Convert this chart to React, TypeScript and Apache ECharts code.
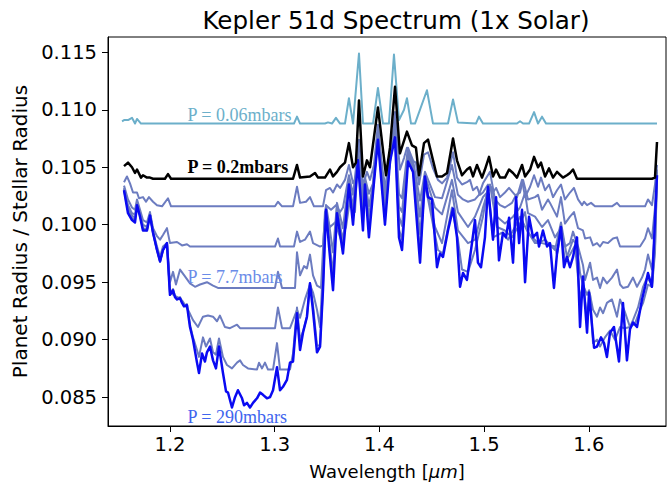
import React, { useEffect, useRef } from "react";
import * as echarts from "echarts";

// Wavelength [um], Rp/Rs pairs
const lightBlue06: number[][] = [
  [1.1542,0.1090],[1.1561,0.1091],[1.1599,0.1091],[1.1637,0.1093],[1.1666,0.1088],[1.1685,0.1092],[1.1723,0.1088],[1.3184,0.1088],[1.3213,0.1094],[1.3242,0.1088],[1.3480,0.1088],[1.3509,0.1089],[1.3547,0.1088],[1.3585,0.1093],[1.3624,0.1088],[1.3671,0.1088],[1.3709,0.1110],[1.3748,0.1088],[1.3805,0.1149],[1.3843,0.1088],[1.3939,0.1088],[1.3986,0.1119],[1.4034,0.1088],[1.4091,0.1088],[1.4139,0.1148],[1.4187,0.1091],[1.4235,0.1100],[1.4263,0.1110],[1.4302,0.1088],[1.4340,0.1088],[1.4454,0.1117],[1.4512,0.1088],[1.4655,0.1088],[1.4703,0.1109],[1.4750,0.1089],[1.4922,0.1088],[1.4951,0.1094],[1.4989,0.1088],[1.5314,0.1088],[1.5343,0.1090],[1.5372,0.1088],[1.5429,0.1088],[1.5477,0.1098],[1.5515,0.1088],[1.5553,0.1094],[1.5591,0.1088],[1.6651,0.1088]
];

const black02: number[][] = [
  [1.1561,0.1051],[1.1599,0.1054],[1.1637,0.1050],[1.1666,0.1045],[1.1685,0.1048],[1.1723,0.1041],[1.1742,0.1043],[1.1780,0.1041],[1.1809,0.1041],[1.1838,0.1040],[1.1952,0.1040],[1.1981,0.1044],[1.2010,0.1040],[1.3175,0.1040],[1.3213,0.1052],[1.3242,0.1041],[1.3337,0.1042],[1.3385,0.1045],[1.3414,0.1041],[1.3480,0.1041],[1.3528,0.1048],[1.3557,0.1042],[1.3595,0.1046],[1.3624,0.1050],[1.3671,0.1054],[1.3709,0.1071],[1.3748,0.1050],[1.3776,0.1054],[1.3805,0.1108],[1.3843,0.1042],[1.3881,0.1056],[1.3910,0.1050],[1.3986,0.1102],[1.4063,0.1043],[1.4101,0.1067],[1.4149,0.1120],[1.4196,0.1062],[1.4263,0.1081],[1.4311,0.1069],[1.4349,0.1067],[1.4378,0.1043],[1.4426,0.1071],[1.4464,0.1074],[1.4512,0.1056],[1.4550,0.1042],[1.4598,0.1042],[1.4646,0.1045],[1.4703,0.1075],[1.4741,0.1056],[1.4789,0.1043],[1.4836,0.1048],[1.4865,0.1050],[1.4894,0.1042],[1.4932,0.1052],[1.4980,0.1041],[1.5008,0.1048],[1.5047,0.1059],[1.5085,0.1042],[1.5114,0.1048],[1.5152,0.1041],[1.5199,0.1041],[1.5238,0.1048],[1.5276,0.1045],[1.5314,0.1041],[1.5362,0.1052],[1.5391,0.1042],[1.5439,0.1048],[1.5477,0.1059],[1.5515,0.1050],[1.5543,0.1054],[1.5582,0.1042],[1.5620,0.1049],[1.5658,0.1041],[1.5696,0.1046],[1.5753,0.1041],[1.5791,0.1043],[1.5820,0.1045],[1.5849,0.1048],[1.5887,0.1040],[1.6603,0.1040],[1.6632,0.1041],[1.6651,0.1072]
];

const slate1: number[][] = [
  [1.1561,0.1037],[1.1589,0.1042],[1.1618,0.1036],[1.1647,0.1028],[1.1685,0.1028],[1.1704,0.1023],[1.1742,0.1024],[1.1771,0.1020],[1.1799,0.1024],[1.1838,0.1020],[1.1876,0.1017],[1.1924,0.1016],[1.1981,0.1023],[1.2010,0.1016],[1.3003,0.1016],[1.3031,0.1020],[1.3070,0.1016],[1.3175,0.1016],[1.3213,0.1033],[1.3242,0.1019],[1.3299,0.1020],[1.3337,0.1024],[1.3375,0.1016],[1.3461,0.1016],[1.3490,0.1030],[1.3528,0.1032],[1.3557,0.1028],[1.3595,0.1035],[1.3624,0.1032],[1.3671,0.1039],[1.3709,0.1052],[1.3748,0.1036],[1.3776,0.1041],[1.3805,0.1074],[1.3843,0.1034],[1.3881,0.1046],[1.3910,0.1039],[1.3948,0.1052],[1.3986,0.1087],[1.4025,0.1046],[1.4063,0.1034],[1.4101,0.1052],[1.4149,0.1098],[1.4196,0.1048],[1.4235,0.1058],[1.4263,0.1067],[1.4311,0.1056],[1.4349,0.1054],[1.4378,0.1035],[1.4426,0.1061],[1.4464,0.1063],[1.4512,0.1049],[1.4559,0.1039],[1.4598,0.1036],[1.4646,0.1041],[1.4703,0.1063],[1.4741,0.1041],[1.4789,0.1035],[1.4836,0.1037],[1.4865,0.1039],[1.4894,0.1030],[1.4932,0.1033],[1.4960,0.1026],[1.4989,0.1028],[1.5037,0.1035],[1.5085,0.1028],[1.5114,0.1032],[1.5152,0.1024],[1.5199,0.1028],[1.5238,0.1032],[1.5276,0.1028],[1.5314,0.1024],[1.5362,0.1039],[1.5391,0.1024],[1.5439,0.1033],[1.5477,0.1043],[1.5515,0.1033],[1.5543,0.1041],[1.5582,0.1030],[1.5620,0.1035],[1.5658,0.1024],[1.5696,0.1030],[1.5734,0.1035],[1.5772,0.1022],[1.5820,0.1028],[1.5858,0.1032],[1.5897,0.1022],[1.5935,0.1017],[1.5954,0.1020],[1.5983,0.1017],[1.6021,0.1019],[1.6059,0.1016],[1.6221,0.1016],[1.6269,0.1019],[1.6298,0.1016],[1.6537,0.1016],[1.6565,0.1022],[1.6603,0.1017],[1.6632,0.1035],[1.6651,0.1052]
];

const slate2: number[][] = [
  [1.1561,0.1034],[1.1599,0.1022],[1.1637,0.1015],[1.1666,0.1013],[1.1685,0.1022],[1.1714,0.1013],[1.1742,0.1004],[1.1780,0.1002],[1.1809,0.1011],[1.1838,0.0997],[1.1876,0.0990],[1.1905,0.0987],[1.1933,0.0991],[1.1971,0.0997],[1.2000,0.0984],[1.2067,0.0985],[1.2115,0.0982],[1.2162,0.0983],[1.2191,0.0981],[1.3003,0.0981],[1.3031,0.0988],[1.3051,0.0981],[1.3184,0.0981],[1.3213,0.0994],[1.3242,0.0985],[1.3289,0.0987],[1.3337,0.0994],[1.3366,0.0984],[1.3433,0.0981],[1.3461,0.0982],[1.3490,0.1017],[1.3538,0.1013],[1.3585,0.1017],[1.3624,0.1011],[1.3652,0.1015],[1.3709,0.1043],[1.3748,0.1026],[1.3795,0.1065],[1.3843,0.1028],[1.3862,0.1041],[1.3900,0.1027],[1.3939,0.1036],[1.3986,0.1084],[1.4053,0.1029],[1.4101,0.1065],[1.4149,0.1087],[1.4187,0.1027],[1.4216,0.1023],[1.4273,0.1067],[1.4321,0.1056],[1.4388,0.1021],[1.4435,0.1046],[1.4531,0.1024],[1.4598,0.1023],[1.4693,0.1052],[1.4750,0.1026],[1.4798,0.1022],[1.4846,0.1020],[1.4913,0.1022],[1.4951,0.1026],[1.4989,0.1036],[1.5056,0.1046],[1.5104,0.1022],[1.5152,0.1017],[1.5199,0.1015],[1.5266,0.1019],[1.5305,0.1026],[1.5343,0.1028],[1.5372,0.1039],[1.5419,0.1022],[1.5486,0.1024],[1.5515,0.1026],[1.5553,0.1013],[1.5610,0.1022],[1.5629,0.1019],[1.5696,0.1007],[1.5734,0.1024],[1.5772,0.1001],[1.5820,0.1007],[1.5858,0.1011],[1.5897,0.0997],[1.5944,0.0995],[1.5964,0.0988],[1.6012,0.0989],[1.6040,0.0982],[1.6078,0.0984],[1.6107,0.0981],[1.6136,0.0985],[1.6183,0.0984],[1.6231,0.0988],[1.6269,0.0989],[1.6298,0.0981],[1.6489,0.0981],[1.6537,0.0988],[1.6565,0.0997],[1.6603,0.0988],[1.6632,0.1015],[1.6651,0.1048]
];

const slate3: number[][] = [
  [1.1561,0.1032],[1.1599,0.1017],[1.1637,0.1010],[1.1666,0.1009],[1.1685,0.1019],[1.1714,0.1010],[1.1742,0.1000],[1.1780,0.0998],[1.1809,0.1009],[1.1838,0.0994],[1.1876,0.0981],[1.1905,0.0972],[1.1933,0.0981],[1.1971,0.0984],[1.2000,0.0950],[1.2029,0.0959],[1.2057,0.0948],[1.2096,0.0961],[1.2143,0.0955],[1.2191,0.0949],[1.2239,0.0946],[1.2287,0.0948],[1.2353,0.0950],[1.2411,0.0947],[1.2458,0.0945],[1.3003,0.0945],[1.3031,0.0959],[1.3070,0.0945],[1.3194,0.0945],[1.3213,0.0976],[1.3242,0.0956],[1.3280,0.0964],[1.3308,0.0962],[1.3337,0.0974],[1.3366,0.0956],[1.3404,0.0947],[1.3442,0.0945],[1.3480,0.1011],[1.3528,0.0998],[1.3576,0.1002],[1.3633,0.0987],[1.3681,0.0998],[1.3719,0.1022],[1.3767,0.1011],[1.3795,0.1064],[1.3843,0.1019],[1.3862,0.1039],[1.3900,0.1016],[1.3939,0.1035],[1.3986,0.1081],[1.4053,0.1022],[1.4101,0.1062],[1.4149,0.1084],[1.4187,0.1016],[1.4216,0.1011],[1.4273,0.1064],[1.4321,0.1054],[1.4388,0.1007],[1.4435,0.1043],[1.4531,0.1015],[1.4598,0.1009],[1.4693,0.1039],[1.4750,0.1011],[1.4846,0.0998],[1.4913,0.1007],[1.4989,0.1024],[1.5075,0.1033],[1.5123,0.1007],[1.5199,0.1001],[1.5276,0.1007],[1.5343,0.1015],[1.5391,0.1028],[1.5419,0.1010],[1.5486,0.1007],[1.5553,0.0998],[1.5610,0.1004],[1.5677,0.0989],[1.5734,0.0997],[1.5772,0.0981],[1.5820,0.0984],[1.5849,0.0994],[1.5897,0.0981],[1.5944,0.0965],[1.5964,0.0952],[1.6012,0.0967],[1.6040,0.0952],[1.6078,0.0954],[1.6107,0.0945],[1.6136,0.0954],[1.6173,0.0949],[1.6221,0.0954],[1.6269,0.0961],[1.6298,0.0948],[1.6326,0.0945],[1.6374,0.0946],[1.6422,0.0954],[1.6460,0.0946],[1.6508,0.0954],[1.6537,0.0961],[1.6565,0.0974],[1.6603,0.0961],[1.6632,0.0995],[1.6651,0.1046]
];

const slate4: number[][] = [
  [1.1561,0.1031],[1.1599,0.1015],[1.1637,0.1008],[1.1666,0.1006],[1.1685,0.1017],[1.1714,0.1009],[1.1742,0.0997],[1.1780,0.0996],[1.1809,0.1009],[1.1838,0.0993],[1.1876,0.0978],[1.1905,0.0968],[1.1933,0.0978],[1.1971,0.0984],[1.2000,0.0941],[1.2048,0.0938],[1.2096,0.0936],[1.2124,0.0933],[1.2172,0.0926],[1.2220,0.0917],[1.2267,0.0911],[1.2315,0.0920],[1.2363,0.0921],[1.2411,0.0920],[1.2449,0.0916],[1.2477,0.0921],[1.2525,0.0911],[1.2573,0.0910],[1.2640,0.0913],[1.2669,0.0910],[1.3003,0.0910],[1.3031,0.0928],[1.3070,0.0910],[1.3146,0.0910],[1.3213,0.0926],[1.3242,0.0919],[1.3289,0.0935],[1.3337,0.0948],[1.3366,0.0941],[1.3404,0.0926],[1.3433,0.0911],[1.3490,0.1017],[1.3519,0.1001],[1.3557,0.0976],[1.3595,0.1019],[1.3652,0.0997],[1.3709,0.1040],[1.3748,0.1014],[1.3795,0.1061],[1.3843,0.1010],[1.3862,0.1037],[1.3900,0.1007],[1.3939,0.1032],[1.3986,0.1079],[1.4053,0.1014],[1.4101,0.1060],[1.4149,0.1081],[1.4187,0.1007],[1.4216,0.0999],[1.4273,0.1061],[1.4321,0.1051],[1.4388,0.0992],[1.4435,0.1039],[1.4531,0.0998],[1.4598,0.0984],[1.4693,0.1030],[1.4750,0.0995],[1.4846,0.0984],[1.4913,0.0987],[1.4989,0.1015],[1.5056,0.1035],[1.5123,0.0998],[1.5199,0.0995],[1.5266,0.0989],[1.5343,0.1001],[1.5391,0.1011],[1.5419,0.0993],[1.5515,0.0984],[1.5582,0.0987],[1.5677,0.0978],[1.5734,0.1002],[1.5791,0.0972],[1.5849,0.0987],[1.5887,0.0982],[1.5916,0.0958],[1.5944,0.0948],[1.5983,0.0939],[1.6002,0.0943],[1.6040,0.0926],[1.6078,0.0920],[1.6107,0.0928],[1.6136,0.0923],[1.6173,0.0932],[1.6221,0.0935],[1.6269,0.0920],[1.6298,0.0935],[1.6345,0.0924],[1.6393,0.0911],[1.6422,0.0917],[1.6470,0.0928],[1.6518,0.0946],[1.6556,0.0954],[1.6603,0.0948],[1.6632,0.0981],[1.6651,0.1043]
];

const slate5: number[][] = [
  [1.1561,0.1030],[1.1599,0.1012],[1.1637,0.1006],[1.1666,0.1004],[1.1685,0.1017],[1.1714,0.1008],[1.1742,0.0996],[1.1780,0.0995],[1.1809,0.1009],[1.1838,0.0993],[1.1876,0.0978],[1.1905,0.0968],[1.1933,0.0978],[1.1971,0.0984],[1.2000,0.0940],[1.2029,0.0944],[1.2048,0.0938],[1.2067,0.0935],[1.2096,0.0937],[1.2115,0.0933],[1.2134,0.0929],[1.2162,0.0931],[1.2191,0.0913],[1.2220,0.0902],[1.2258,0.0891],[1.2277,0.0885],[1.2315,0.0902],[1.2344,0.0894],[1.2382,0.0901],[1.2411,0.0889],[1.2439,0.0887],[1.2468,0.0901],[1.2506,0.0885],[1.2544,0.0878],[1.2592,0.0875],[1.2640,0.0880],[1.2669,0.0882],[1.2697,0.0878],[1.2745,0.0875],[1.2831,0.0874],[1.2850,0.0880],[1.2879,0.0875],[1.2907,0.0880],[1.2936,0.0874],[1.2984,0.0874],[1.3022,0.0897],[1.3051,0.0874],[1.3146,0.0874],[1.3175,0.0888],[1.3213,0.0928],[1.3242,0.0900],[1.3270,0.0907],[1.3308,0.0920],[1.3337,0.0949],[1.3366,0.0930],[1.3404,0.0895],[1.3433,0.0895],[1.3461,0.0945],[1.3490,0.1015],[1.3519,0.0989],[1.3557,0.0957],[1.3595,0.1015],[1.3652,0.0985],[1.3709,0.1036],[1.3748,0.1006],[1.3795,0.1059],[1.3843,0.1001],[1.3862,0.1035],[1.3900,0.0996],[1.3939,0.1030],[1.3986,0.1076],[1.4053,0.1006],[1.4101,0.1057],[1.4149,0.1079],[1.4187,0.0996],[1.4216,0.0987],[1.4273,0.1059],[1.4321,0.1049],[1.4388,0.0977],[1.4435,0.1036],[1.4559,0.0978],[1.4607,0.0975],[1.4693,0.1015],[1.4750,0.0987],[1.4789,0.0961],[1.4846,0.0959],[1.4913,0.0978],[1.4989,0.1007],[1.5037,0.1033],[1.5085,0.0989],[1.5171,0.0993],[1.5228,0.0987],[1.5295,0.0998],[1.5343,0.1007],[1.5410,0.0995],[1.5486,0.0984],[1.5553,0.0984],[1.5677,0.0981],[1.5696,0.0974],[1.5734,0.0995],[1.5772,0.0968],[1.5820,0.0974],[1.5868,0.0982],[1.5916,0.0935],[1.5944,0.0948],[1.5983,0.0921],[1.6012,0.0939],[1.6040,0.0897],[1.6078,0.0900],[1.6107,0.0894],[1.6154,0.0902],[1.6202,0.0908],[1.6250,0.0900],[1.6298,0.0911],[1.6345,0.0910],[1.6393,0.0911],[1.6441,0.0914],[1.6489,0.0926],[1.6518,0.0932],[1.6565,0.0948],[1.6603,0.0946],[1.6632,0.0976],[1.6651,0.1042]
];

const blue290: number[][] = [
  [1.1561,0.1030],[1.1599,0.1010],[1.1637,0.1004],[1.1666,0.1002],[1.1685,0.1017],[1.1714,0.1007],[1.1742,0.0995],[1.1780,0.0995],[1.1809,0.1008],[1.1838,0.0993],[1.1876,0.0978],[1.1905,0.0968],[1.1933,0.0978],[1.1971,0.0984],[1.2000,0.0939],[1.2029,0.0943],[1.2048,0.0937],[1.2067,0.0935],[1.2096,0.0936],[1.2115,0.0932],[1.2134,0.0929],[1.2162,0.0930],[1.2191,0.0911],[1.2220,0.0900],[1.2258,0.0880],[1.2277,0.0871],[1.2306,0.0888],[1.2334,0.0881],[1.2353,0.0889],[1.2382,0.0894],[1.2411,0.0882],[1.2439,0.0875],[1.2468,0.0894],[1.2506,0.0871],[1.2535,0.0855],[1.2554,0.0854],[1.2592,0.0841],[1.2621,0.0850],[1.2649,0.0856],[1.2688,0.0849],[1.2707,0.0843],[1.2735,0.0845],[1.2764,0.0841],[1.2793,0.0845],[1.2831,0.0849],[1.2860,0.0854],[1.2888,0.0852],[1.2926,0.0849],[1.2955,0.0850],[1.2984,0.0856],[1.3022,0.0876],[1.3051,0.0856],[1.3079,0.0859],[1.3117,0.0865],[1.3146,0.0880],[1.3175,0.0881],[1.3213,0.0923],[1.3242,0.0891],[1.3270,0.0906],[1.3308,0.0920],[1.3337,0.0949],[1.3366,0.0925],[1.3404,0.0889],[1.3433,0.0894],[1.3461,0.0943],[1.3490,0.1013],[1.3519,0.0981],[1.3557,0.0943],[1.3595,0.1010],[1.3652,0.0975],[1.3709,0.1035],[1.3748,0.1000],[1.3795,0.1056],[1.3843,0.0995],[1.3862,0.1035],[1.3900,0.0989],[1.3939,0.1028],[1.3986,0.1074],[1.4053,0.1000],[1.4101,0.1055],[1.4149,0.1076],[1.4187,0.0989],[1.4216,0.0978],[1.4273,0.1055],[1.4321,0.1046],[1.4388,0.0967],[1.4435,0.1042],[1.4464,0.1024],[1.4502,0.1022],[1.4550,0.0963],[1.4579,0.0975],[1.4607,0.0972],[1.4655,0.0995],[1.4703,0.1014],[1.4741,0.0989],[1.4770,0.0946],[1.4798,0.0958],[1.4836,0.0952],[1.4884,0.0984],[1.4913,0.1004],[1.4941,0.0967],[1.4970,0.0963],[1.5008,0.0989],[1.5037,0.1033],[1.5085,0.0987],[1.5114,0.1024],[1.5142,0.0969],[1.5180,0.0993],[1.5209,0.0989],[1.5238,0.1006],[1.5276,0.0967],[1.5305,0.1024],[1.5334,0.0984],[1.5362,0.1013],[1.5391,0.0950],[1.5429,0.1007],[1.5467,0.0989],[1.5505,0.0993],[1.5524,0.0981],[1.5562,0.0995],[1.5601,0.0981],[1.5629,0.0984],[1.5667,0.0945],[1.5696,0.0975],[1.5734,0.0998],[1.5763,0.0963],[1.5791,0.0972],[1.5820,0.0963],[1.5849,0.0972],[1.5887,0.0989],[1.5916,0.0911],[1.5944,0.0955],[1.5983,0.0906],[1.6002,0.0941],[1.6050,0.0893],[1.6078,0.0894],[1.6116,0.0902],[1.6145,0.0897],[1.6173,0.0885],[1.6202,0.0906],[1.6240,0.0911],[1.6288,0.0881],[1.6326,0.0932],[1.6364,0.0882],[1.6393,0.0909],[1.6422,0.0915],[1.6460,0.0911],[1.6508,0.0935],[1.6537,0.0946],[1.6565,0.0958],[1.6603,0.0946],[1.6622,0.0984],[1.6651,0.1043]
];

const wavelengthTicks = [1.2, 1.3, 1.4, 1.5, 1.6];
const radiusTicks = [0.085, 0.09, 0.095, 0.1, 0.105, 0.11, 0.115];

const annotationTexts = ["P = 0.06mbars", "P = 0.2mbars", "P = 7.7mbars", "P = 290mbars"];
const annotationX = [1.2162, 1.2162, 1.2162, 1.2162];
const annotationY = [0.10955, 0.10502, 0.09545, 0.08327];
const annotationColors = ["#6cafca", "#000000", "#6a8be8", "#4065ee"];
const annotationWeights = ["normal", "bold", "normal", "normal"];

export default function App() {
  const ref = useRef<HTMLDivElement>(null);
  useEffect(() => {
    document.body.style.margin = "0";
    const chart = echarts.init(ref.current!, null, { renderer: "svg" });
    const slateColor = "#6c7cc0";
    const line = (name: string, data: number[][], color: string, width: number) => ({
      type: "line",
      name,
      data,
      showSymbol: false,
      symbol: "none",
      lineStyle: { color, width, join: "round" },
      itemStyle: { color },
      silent: true,
      z: 2,
    });
    chart.setOption({
      animation: false,
      backgroundColor: "#ffffff",
      title: {
        text: "Kepler 51d Spectrum (1x Solar)",
        left: 391,
        top: 3,
        textAlign: "center",
        textStyle: { fontFamily: "DejaVu Sans", fontSize: 24.6, fontWeight: "normal", color: "#000" },
      },
      grid: {
        left: 108,
        right: 3,
        top: 37,
        bottom: 59,
        show: true,
        borderColor: "#000",
        borderWidth: 1,
        backgroundColor: "transparent",
      },
      xAxis: {
        type: "value",
        min: 1.1408,
        max: 1.6737,
        name: "Wavelength [{i|μm}]",
        nameLocation: "middle",
        nameGap: 36,
        nameTextStyle: {
          fontFamily: "DejaVu Sans",
          fontSize: 18,
          color: "#000",
          rich: { i: { fontFamily: "DejaVu Sans", fontStyle: "italic", fontSize: 18, color: "#000" } },
        },
        axisLine: { show: true, lineStyle: { color: "#000", width: 1 } },
        axisTick: { show: true, inside: false, length: 6, customValues: wavelengthTicks, lineStyle: { color: "#000" } },
        axisLabel: {
          customValues: wavelengthTicks,
          formatter: (v: number) => v.toFixed(1),
          fontFamily: "DejaVu Sans",
          fontSize: 19.5,
          color: "#000",
          margin: 8,
        },
        splitLine: { show: false },
      },
      yAxis: {
        type: "value",
        min: 0.08249,
        max: 0.11633,
        name: "Planet Radius / Stellar Radius",
        nameLocation: "middle",
        nameGap: 70,
        nameTextStyle: { fontFamily: "DejaVu Sans", fontSize: 20, color: "#000" },
        axisLine: { show: true, lineStyle: { color: "#000", width: 1 } },
        axisTick: { show: true, inside: false, length: 6, customValues: radiusTicks, lineStyle: { color: "#000" } },
        axisLabel: {
          customValues: radiusTicks,
          formatter: (v: number) => v.toFixed(3),
          fontFamily: "DejaVu Sans",
          fontSize: 19.5,
          color: "#000",
          margin: 11,
        },
        splitLine: { show: false },
      },
      series: [
        line("P = 0.06mbars", lightBlue06, "#6cafca", 2),
        line("slate5", slate5, slateColor, 2),
        line("slate4", slate4, slateColor, 2),
        line("slate3", slate3, slateColor, 2),
        line("slate2", slate2, slateColor, 2),
        line("slate1", slate1, slateColor, 2),
        line("P = 290mbars", blue290, "#0a0af2", 2.5),
        line("P = 0.2mbars", black02, "#000000", 2.5),
        {
          type: "scatter",
          name: "labels",
          symbol: "circle",
          symbolSize: 1,
          itemStyle: { color: "rgba(0,0,0,0)" },
          silent: true,
          z: 5,
          data: annotationTexts.map((t, i) => ({
            name: t,
            value: [annotationX[i], annotationY[i]],
            label: {
              show: true,
              position: "right",
              distance: 0,
              formatter: "{b}",
              opacity: 1,
              fontFamily: "Liberation Serif",
              fontSize: 18,
              fontWeight: annotationWeights[i],
              color: annotationColors[i],
            },
          })),
        },
      ],
    });
    return () => chart.dispose();
  }, []);
  return <div ref={ref} style={{ width: 669, height: 485 }} />;
}
